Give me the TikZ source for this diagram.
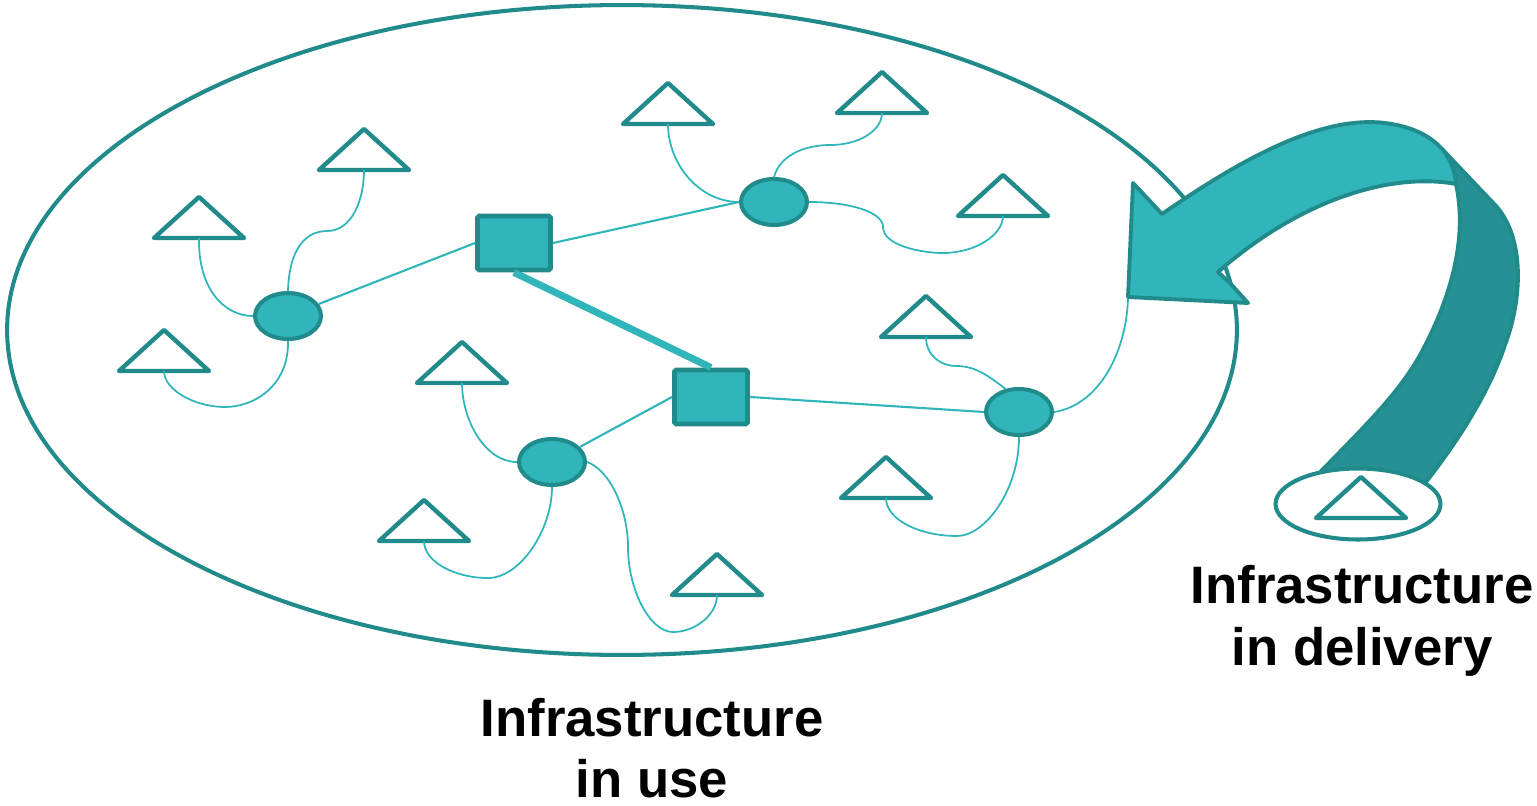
\documentclass[tikz,border=0pt]{standalone}
\usepackage{fontspec}
\setmainfont{Liberation Sans}
\usetikzlibrary{shapes.geometric}
\definecolor{tealfill}{HTML}{2FB5BA}
\definecolor{tealline}{HTML}{218A8A}
\definecolor{tealdark}{HTML}{259194}
\tikzset{
  hub/.style={ellipse, draw=tealline, fill=tealfill, line width=2.3pt,
    minimum width=1.32cm, minimum height=0.92cm, inner sep=0pt},
  switchbox/.style={rectangle, draw=tealline, fill=tealfill, line width=2.8pt,
    rounded corners=1pt, minimum width=1.46cm, minimum height=1.08cm, inner sep=0pt},
  wire/.style={draw=tealfill, line width=1pt},
  link/.style={draw=tealfill, line width=1.2pt},
  trunk/.style={draw=tealfill, line width=4pt},
  triline/.style={draw=tealline, fill=white, line width=2.5pt, line join=round},
  tri/.pic={\path[triline] (-45,0) -- (45,0) -- (0,-41) -- cycle;
            \coordinate (-b) at (0,0);},
  caption/.style={font=\fontsize{30}{36}\selectfont\bfseries, inner sep=0pt, anchor=base}
}
\begin{document}
\begin{tikzpicture}[x=0.02cm, y=-0.02cm]
\useasboundingbox (0,0) rectangle (1537,805);

% the network in use
\draw[tealline, line width=2.3pt] (622,330) ellipse [x radius=12.3cm, y radius=6.5cm];

% end devices
\pic (t1) at (199,238) {tri};
\pic (t2) at (364,170) {tri};
\pic (t3) at (164,371) {tri};
\pic (t4) at (668,124) {tri};
\pic (t5) at (882,113) {tri};
\pic (t6) at (1003,216) {tri};
\pic (t7) at (462,383) {tri};
\pic (t8) at (926,337) {tri};
\pic (t9) at (424,541) {tri};
\pic (t10) at (886,498) {tri};
\pic (t11) at (717,595) {tri};

% hubs and switches
\node[switchbox] (sq1) at (514,243) {};
\node[switchbox] (sq2) at (711,397) {};
\node[hub] (c1) at (288,316) {};
\node[hub] (c2) at (774,202) {};
\node[hub] (c3) at (552,462) {};
\node[hub] (c4) at (1019,412) {};
\coordinate (tip) at (1128,297);

% backbone
\draw[trunk] (sq1.south) -- (sq2.north);
\draw[link] (c1) -- (sq1.west);
\draw[link] (sq1.east) -- (c2.west);
\draw[link] (sq2.west) -- (c3);
\draw[link] (sq2.east) -- (c4.west);

% access wiring
\draw[wire] (t1-b) .. controls (198,290) and (225,316) .. (c1.west);
\draw[wire] (c1.north) .. controls (289,250) and (305,231) .. (327,231)
            .. controls (352,231) and (364,200) .. (t2-b);
\draw[wire] (c1.south) .. controls (289,385) and (255,407) .. (225,407)
            .. controls (195,407) and (164,390) .. (t3-b);
\draw[wire] (t4-b) .. controls (668,165) and (700,202) .. (c2.west);
\draw[wire] (c2.north) .. controls (780,155) and (805,145) .. (830,145)
            .. controls (860,145) and (882,130) .. (t5-b);
\draw[wire] (c2.east) .. controls (850,202) and (883,212) .. (883,227)
            .. controls (883,245) and (920,253) .. (943,253)
            .. controls (975,253) and (1003,235) .. (t6-b);
\draw[wire] (t7-b) .. controls (462,420) and (485,462) .. (c3.west);
\draw[wire] (c3.south) .. controls (552,530) and (520,578) .. (488,578)
            .. controls (455,578) and (424,562) .. (t9-b);
\draw[wire] (c3.east) .. controls (610,470) and (628,510) .. (628,547)
            .. controls (628,590) and (650,632) .. (673,632)
            .. controls (695,632) and (717,615) .. (t11-b);
\draw[wire] (t8-b) .. controls (926,355) and (940,366) .. (957,366)
            .. controls (978,366) and (993,380) .. (c4.120);
\draw[wire] (c4.south) .. controls (1019,490) and (985,536) .. (957,536)
            .. controls (920,536) and (886,520) .. (t10-b);
\draw[wire] (c4.east) .. controls (1100,405) and (1127,350) .. (tip);

% delivery arrow: back of the ribbon
\path[fill=tealdark, draw=tealline, line width=2.2pt, line join=round]
  (1443,150) -- (1497,207)
  .. controls (1525,240) and (1522,300) .. (1505,345)
  .. controls (1490,390) and (1460,440) .. (1418,492)
  -- (1305,488)
  .. controls (1350,440) and (1395,400) .. (1420,355)
  .. controls (1450,300) and (1468,240) .. (1456,184) -- cycle;

% delivery arrow: front band and head
\path[fill=tealfill, draw=tealline, line width=2.2pt, line join=round]
  (tip) -- (1133,183) -- (1162,214)
  .. controls (1240,160) and (1320,115) .. (1385,123)
  .. controls (1410,126) and (1430,135) .. (1443,150)
  .. controls (1452,162) and (1455,172) .. (1456,184)
  .. controls (1390,172) and (1300,200) .. (1218,272)
  -- (1230,283) -- (1248,303) -- cycle;

% infrastructure in delivery
\node[ellipse, draw=tealline, fill=white, line width=2.3pt, inner sep=0pt,
      minimum width=3.3cm, minimum height=1.42cm] (deliv) at (1358,504) {};
\pic (t12) at (1361,518) {tri};

% captions
\node[caption] (use1) at (652,736) {Infrastructure};
\node[caption] (use2) at (652,797) {in use};
\node[caption] (del1) at (1362,603) {Infrastructure};
\node[caption] (del2) at (1362,665) {in delivery};
\end{tikzpicture}
\end{document}
